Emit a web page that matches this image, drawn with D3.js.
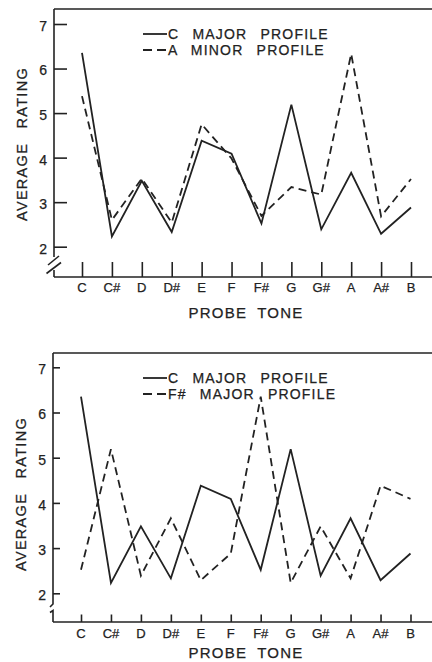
<!DOCTYPE html>
<html>
<head>
<meta charset="utf-8">
<script src="https://cdn.jsdelivr.net/npm/d3@7"></script>
<style>
  html, body { margin: 0; padding: 0; background: #fff; }
  svg { display: block; }
  text { font-family: "Liberation Sans", Arial, Helvetica, sans-serif; fill: #222; stroke: #222; stroke-width: 0.25px; }
</style>
</head>
<body>
<svg id="chart" width="432" height="662"></svg>
<script>
// ---- data ----
const tones = ["C", "C#", "D", "D#", "E", "F", "F#", "G", "G#", "A", "A#", "B"];
const cMajorProfile = [6.35, 2.23, 3.48, 2.33, 4.38, 4.09, 2.52, 5.19, 2.39, 3.66, 2.29, 2.88];
const aMinorProfile = [5.38, 2.60, 3.53, 2.54, 4.75, 3.98, 2.69, 3.34, 3.17, 6.33, 2.68, 3.52];
const fSharpMajorProfile = [2.52, 5.19, 2.39, 3.66, 2.29, 2.88, 6.35, 2.23, 3.48, 2.33, 4.38, 4.09];
const yTickValues = [2, 3, 4, 5, 6, 7];
const xAxisTitle = "PROBE TONE";
const yAxisTitle = "AVERAGE RATING";

const svg = d3.select("#chart");
const ink = "#222";

function drawPanel(p) {
  const g = svg.append("g");
  const x = d3.scalePoint().domain(tones).range([p.x0, p.x1]);
  const y = d3.scaleLinear().domain([2, 7]).range([p.y2, p.y7]);

  // frame: top line, left axis with break, bottom axis
  g.append("line").attr("x1", p.left).attr("x2", 432).attr("y1", p.top).attr("y2", p.top)
    .attr("stroke", ink).attr("stroke-width", 1.6);
  g.append("line").attr("x1", p.left).attr("x2", 432).attr("y1", p.bottom).attr("y2", p.bottom)
    .attr("stroke", ink).attr("stroke-width", 1.6);
  p.breakPaths.forEach(d => {
    g.append("path").attr("d", d).attr("fill", "none").attr("stroke", ink).attr("stroke-width", 1.6);
  });

  // y axis ticks (inward)
  const yAxis = d3.axisRight(y).tickValues(yTickValues).tickSize(p.yTickLen).tickFormat("");
  const ya = g.append("g").attr("transform", `translate(${p.left},0)`).call(yAxis);
  ya.select(".domain").remove();
  ya.selectAll("line").attr("stroke", ink).attr("stroke-width", 1.6);
  g.selectAll(".ylab").data(yTickValues).enter().append("text")
    .attr("x", p.left - 7).attr("y", d => y(d) + 2)
    .attr("dy", "0.35em").attr("text-anchor", "end")
    .attr("font-size", 14).text(d => d);

  // x axis ticks (inward / upward)
  const xAxis = d3.axisTop(x).tickSize(p.xTickLen).tickFormat("");
  const xa = g.append("g").attr("transform", `translate(0,${p.bottom})`).call(xAxis);
  xa.select(".domain").remove();
  xa.selectAll("line").attr("stroke", ink).attr("stroke-width", 1.6);
  g.selectAll(".xlab").data(tones).enter().append("text")
    .attr("x", d => x(d)).attr("y", p.xLabelY)
    .attr("text-anchor", "middle").attr("font-size", 13).text(d => d);

  // axis titles
  g.append("text").attr("x", 246).attr("y", p.xTitleY).attr("text-anchor", "middle")
    .attr("font-size", 15).attr("letter-spacing", 1.2).attr("word-spacing", 5)
    .text(xAxisTitle);
  g.append("text")
    .attr("transform", `translate(${p.yTitleX},${p.yTitleY}) rotate(-90)`)
    .attr("text-anchor", "middle").attr("dy", "0.35em")
    .attr("font-size", 14.5).attr("letter-spacing", 1.3).attr("word-spacing", 9)
    .text(yAxisTitle);

  // series lines
  const line = d3.line().x((d, i) => x(tones[i])).y(d => y(d));
  p.series.forEach(s => {
    g.append("path").datum(s.values).attr("d", line)
      .attr("fill", "none").attr("stroke", ink).attr("stroke-width", 1.8)
      .attr("stroke-linejoin", "miter")
      .attr("stroke-dasharray", s.dashed ? "8,5" : null);
  });

  // legend
  p.series.forEach((s, i) => {
    const ly = p.legendY + i * p.legendGap;
    g.append("line").attr("x1", 143).attr("x2", 167).attr("y1", ly).attr("y2", ly)
      .attr("stroke", ink).attr("stroke-width", 1.8)
      .attr("stroke-dasharray", s.dashed ? "9,5" : null);
    g.append("text").attr("x", 168).attr("y", ly + 5)
      .attr("font-size", 14).attr("letter-spacing", 1.2).attr("word-spacing", 8)
      .text(s.label);
  });
}

drawPanel({
  left: 54, top: 9, bottom: 277,
  x0: 82, x1: 411, y2: 246.7, y7: 24,
  yTickLen: 13, xTickLen: 15,
  xLabelY: 292, xTitleY: 318,
  yTitleX: 22, yTitleY: 144,
  legendY: 34, legendGap: 16,
  breakPaths: ["M54,9 V257", "M48,265 L59,256", "M46.5,273.5 L61,262.5", "M54,270 V277"],
  series: [
    { label: "C MAJOR PROFILE", values: cMajorProfile, dashed: false },
    { label: "A MINOR PROFILE", values: aMinorProfile, dashed: true }
  ]
});

drawPanel({
  left: 53, top: 353, bottom: 622,
  x0: 81, x1: 410.5, y2: 593.3, y7: 367.3,
  yTickLen: 7, xTickLen: 7.5,
  xLabelY: 638, xTitleY: 658,
  yTitleX: 21, yTitleY: 494,
  legendY: 378, legendGap: 16,
  breakPaths: ["M53,353 V604 L50,607", "M50,612.5 L53,610.5 V622"],
  series: [
    { label: "C MAJOR PROFILE", values: cMajorProfile, dashed: false },
    { label: "F# MAJOR PROFILE", values: fSharpMajorProfile, dashed: true }
  ]
});
</script>
</body>
</html>
